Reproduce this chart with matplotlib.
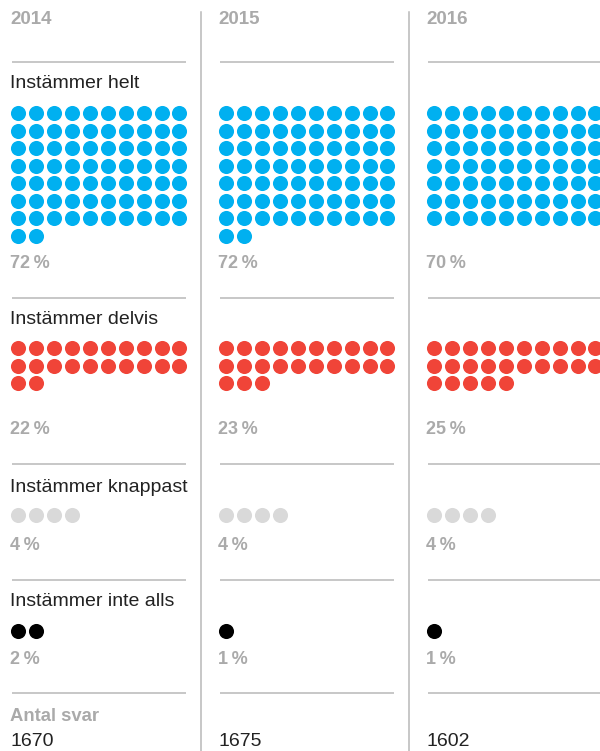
import numpy as np
import matplotlib.pyplot as plt

plt.rcParams['font.family'] = ['Liberation Sans', 'DejaVu Sans']

# Data
years = ['2014', '2015', '2016']
categories = ['Instämmer helt', 'Instämmer delvis', 'Instämmer knappast', 'Instämmer inte alls']
helt = [72, 72, 70]
delvis = [22, 23, 25]
knappast = [4, 4, 4]
inte_alls = [2, 1, 1]
antal_svar = ['1670', '1675', '1602']

colors = ['#00b0f0', '#f04438', '#d9d9d9', '#000000']
grey_txt = '#aaaaaa'
line_col = '#b8b8b8'

# layout in pixels (y down)
col_x = [10, 218, 426]
sec_line_y = [62, 298, 464, 580, 693]
label_y = [83, 320, 487, 602]
dots_y = [113.3, 348.3, 515, 631]
pct_y = [263, 429, 546, 659]
dx, dy = 17.9, 17.5

fig = plt.figure(figsize=(6, 7.51), dpi=100)
ax = fig.add_axes([0, 0, 1, 1])
ax.set_xlim(0, 600)
ax.set_ylim(751, 0)
ax.axis('off')

values = [helt, delvis, knappast, inte_alls]

for c, (x0, year) in enumerate(zip(col_x, years)):
    ax.text(x0, 20, year, fontsize=13.5, fontweight='bold', color=grey_txt, va='center', ha='left')
    for ly in sec_line_y:
        ax.plot([x0 + 1.5, x0 + 175.5], [ly, ly], color=line_col, lw=1.1, solid_capstyle='butt')
    for k, cat in enumerate(categories):
        if c == 0:
            ax.text(x0, label_y[k], cat, fontsize=14, color='#222222', va='center', ha='left')
        n = values[k][c]
        idx = np.arange(n)
        xs = x0 + 8.3 + (idx % 10) * dx
        ys = dots_y[k] + (idx // 10) * dy
        ax.scatter(xs, ys, s=118, color=colors[k], linewidths=0, zorder=3)
        ax.text(x0, pct_y[k], f'{n}\u2009%', fontsize=13, fontweight='bold', color=grey_txt,
                va='center', ha='left')
    if c == 0:
        ax.text(x0, 716.5, 'Antal svar', fontsize=13.3, fontweight='bold', color=grey_txt, va='center', ha='left')
    ax.text(x0, 750, antal_svar[c], fontsize=14, color='#222222', va='bottom', ha='left')

for vx in [201, 409]:
    ax.plot([vx, vx], [12, 751], color=line_col, lw=1.1)

fig.savefig('out.png', dpi=100)
